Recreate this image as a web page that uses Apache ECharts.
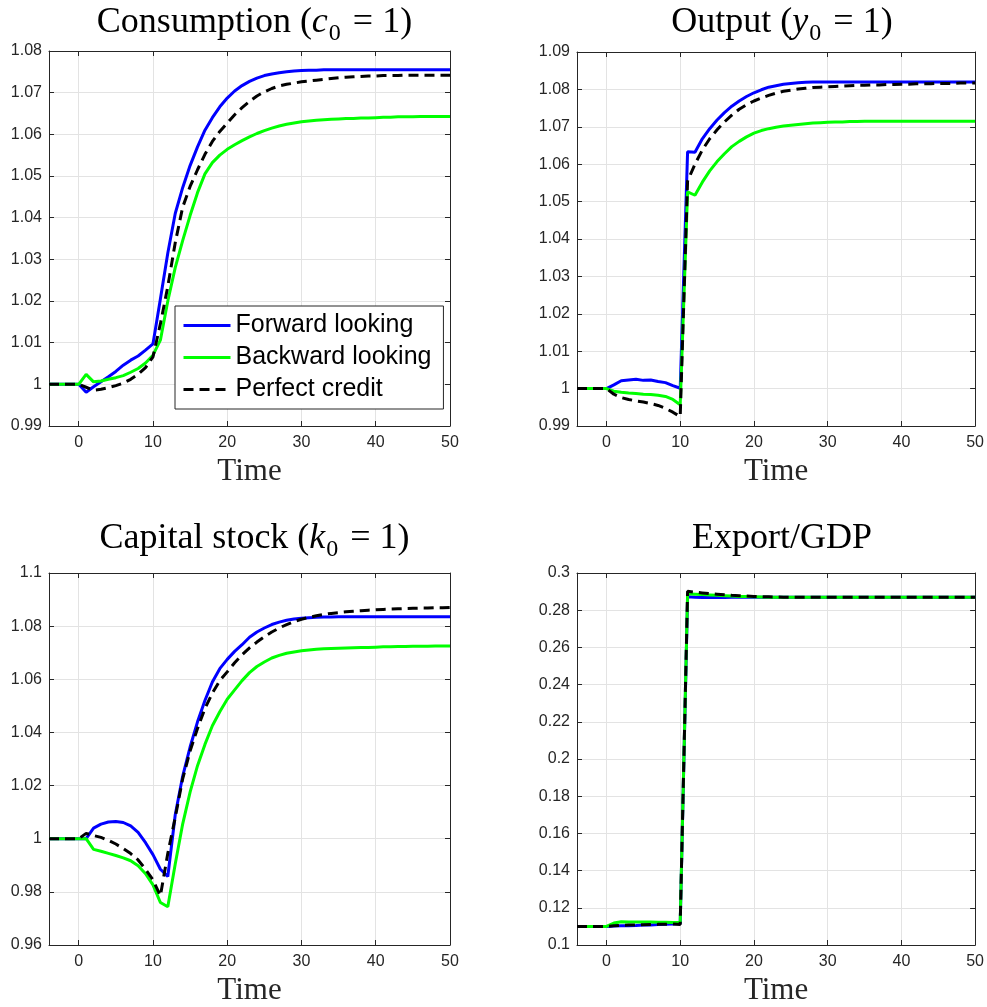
<!DOCTYPE html>
<html lang="en">
<head>
    <meta charset="UTF-8">
    <title>Credit shock responses</title>
    <script src="https://cdn.jsdelivr.net/npm/echarts@6/dist/echarts.min.js"></script>
    <style>
        html, body { margin: 0; padding: 0; background: #fff; }
        #main { width: 987px; height: 1007px; }
    </style>
</head>
<body>
<div id="main"></div>
<script>
    // time axis
    var t = [-4, -3, -2, -1, 0,
        1, 2, 3, 4, 5, 6, 7, 8, 9, 10,
        11, 12, 13, 14, 15, 16, 17, 18, 19, 20,
        21, 22, 23, 24, 25, 26, 27, 28, 29, 30,
        31, 32, 33, 34, 35, 36, 37, 38, 39, 40,
        41, 42, 43, 44, 45, 46, 47, 48, 49, 50];

    var seriesNames = ['Forward looking', 'Backward looking', 'Perfect credit'];

    // consumption
    var cons_fwd = [1, 1, 1, 1, 1,
        0.9981, 0.9994, 1.0006, 1.0018, 1.0031, 1.0046, 1.0058, 1.0068, 1.0082, 1.0097,
        1.0205, 1.0315, 1.0410, 1.0472, 1.0525, 1.0570, 1.0610, 1.0640, 1.0666, 1.0687,
        1.0704, 1.0717, 1.0727, 1.0735, 1.0741, 1.0745, 1.0748, 1.0750, 1.0752, 1.0753,
        1.0754, 1.0754, 1.0755, 1.0755, 1.0755, 1.0755, 1.0755, 1.0755, 1.0755, 1.0755,
        1.0755, 1.0755, 1.0755, 1.0755, 1.0755, 1.0755, 1.0755, 1.0755, 1.0755, 1.0755];
    var cons_bwd = [1, 1, 1, 1, 1,
        1.0024, 1.0006, 1.0008, 1.0012, 1.0016, 1.0021, 1.0029, 1.0038, 1.0051, 1.0070,
        1.0106, 1.0200, 1.0280, 1.0345, 1.0405, 1.0460, 1.0505, 1.0532, 1.0550, 1.0564,
        1.0575, 1.0585, 1.0594, 1.0602, 1.0609, 1.0615, 1.0620, 1.0624, 1.0627, 1.0630,
        1.0632, 1.0634, 1.0635, 1.0636, 1.0637, 1.0638, 1.0638, 1.0639, 1.0639, 1.0640,
        1.0641, 1.0641, 1.0642, 1.0642, 1.0642, 1.0643, 1.0643, 1.0643, 1.0643, 1.0643];
    var cons_pc = [1, 1, 1, 1, 1,
        0.9993, 0.9986, 0.9988, 0.9992, 0.9997, 1.0003, 1.0012, 1.0024, 1.0040, 1.0066,
        1.0145, 1.0235, 1.0340, 1.0425, 1.0475, 1.0515, 1.0552, 1.0583, 1.0607, 1.0627,
        1.0647, 1.0664, 1.0679, 1.0692, 1.0702, 1.0710, 1.0716, 1.0720, 1.0723, 1.0726,
        1.0728, 1.0730, 1.0732, 1.0734, 1.0736, 1.0737, 1.0738, 1.0739, 1.0740, 1.0740,
        1.0741, 1.0741, 1.0741, 1.0742, 1.0742, 1.0742, 1.0742, 1.0742, 1.0742, 1.0742];

    // output
    var out_fwd = [1, 1, 1, 1, 1,
        1.0010, 1.0021, 1.0023, 1.0025, 1.0022, 1.0023, 1.0019, 1.0016, 1.0008, 1.0001,
        1.0633, 1.0632, 1.0668, 1.0695, 1.0718, 1.0738, 1.0755, 1.0769, 1.0781, 1.0791,
        1.0799, 1.0806, 1.0810, 1.0814, 1.0816, 1.0818, 1.0819, 1.0820, 1.0820, 1.0820,
        1.0820, 1.0820, 1.0820, 1.0820, 1.0820, 1.0820, 1.0820, 1.0820, 1.0820, 1.0820,
        1.0820, 1.0820, 1.0820, 1.0820, 1.0820, 1.0820, 1.0820, 1.0820, 1.0820, 1.0820];
    var out_bwd = [1, 1, 1, 1, 1,
        0.9993, 0.9990, 0.9988, 0.9987, 0.9985, 0.9984, 0.9982, 0.9979, 0.9971, 0.9957,
        1.0526, 1.0517, 1.0552, 1.0582, 1.0607, 1.0628, 1.0647, 1.0661, 1.0673, 1.0683,
        1.0690, 1.0695, 1.0699, 1.0702, 1.0704, 1.0706, 1.0708, 1.0710, 1.0711, 1.0712,
        1.0713, 1.0713, 1.0714, 1.0714, 1.0715, 1.0715, 1.0715, 1.0715, 1.0715, 1.0715,
        1.0715, 1.0715, 1.0715, 1.0715, 1.0715, 1.0715, 1.0715, 1.0715, 1.0715, 1.0715];
    var out_pc = [1, 1, 1, 1, 1,
        0.9985, 0.9976, 0.9971, 0.9967, 0.9964, 0.9960, 0.9955, 0.9947, 0.9937, 0.9925,
        1.0555, 1.0600, 1.0638, 1.0668, 1.0692, 1.0713, 1.0731, 1.0747, 1.0759, 1.0769,
        1.0777, 1.0784, 1.0790, 1.0795, 1.0798, 1.0801, 1.0803, 1.0805, 1.0806, 1.0807,
        1.0808, 1.0809, 1.0810, 1.0811, 1.0811, 1.0812, 1.0812, 1.0813, 1.0813, 1.0814,
        1.0814, 1.0815, 1.0815, 1.0815, 1.0816, 1.0816, 1.0816, 1.0817, 1.0817, 1.0817];

    // capital stock
    var cap_fwd = [1, 1, 1, 1, 1,
        1.0000, 1.0040, 1.0055, 1.0063, 1.0065, 1.0061, 1.0048, 1.0024, 0.9985, 0.9940,
        0.9885, 0.9858, 1.0090, 1.0235, 1.0345, 1.0440, 1.0520, 1.0590, 1.0640, 1.0675,
        1.0705, 1.0730, 1.0758, 1.0778, 1.0793, 1.0806, 1.0815, 1.0822, 1.0827, 1.0830,
        1.0832, 1.0833, 1.0834, 1.0834, 1.0835, 1.0835, 1.0835, 1.0835, 1.0835, 1.0835,
        1.0835, 1.0835, 1.0835, 1.0835, 1.0835, 1.0835, 1.0835, 1.0835, 1.0835, 1.0835];
    var cap_bwd = [1, 1, 1, 1, 1,
        1.0000, 0.9960, 0.9953, 0.9945, 0.9937, 0.9928, 0.9917, 0.9898, 0.9868, 0.9826,
        0.9760, 0.9744, 0.9905, 1.0055, 1.0175, 1.0275, 1.0355, 1.0425, 1.0478, 1.0525,
        1.0560, 1.0595, 1.0625, 1.0648, 1.0665, 1.0680, 1.0690, 1.0698, 1.0703, 1.0707,
        1.0710, 1.0713, 1.0715, 1.0716, 1.0717, 1.0718, 1.0719, 1.0720, 1.0720, 1.0721,
        1.0722, 1.0722, 1.0723, 1.0723, 1.0724, 1.0724, 1.0724, 1.0725, 1.0725, 1.0725];
    var cap_pc = [1, 1, 1, 1, 1,
        1.0020, 1.0012, 1.0005, 0.9994, 0.9980, 0.9963, 0.9944, 0.9920, 0.9885, 0.9845,
        0.9785, 0.9945, 1.0080, 1.0225, 1.0330, 1.0415, 1.0490, 1.0548, 1.0595, 1.0628,
        1.0662, 1.0692, 1.0718, 1.0740, 1.0760, 1.0778, 1.0793, 1.0806, 1.0817, 1.0826,
        1.0833, 1.0839, 1.0844, 1.0848, 1.0851, 1.0854, 1.0856, 1.0858, 1.0860, 1.0862,
        1.0863, 1.0864, 1.0865, 1.0866, 1.0867, 1.0868, 1.0868, 1.0869, 1.0869, 1.0870];

    // export / GDP
    var exp_fwd = [0.11, 0.11, 0.11, 0.11, 0.11,
        0.1102, 0.1103, 0.1104, 0.1105, 0.1107, 0.1108, 0.1110, 0.1111, 0.1113, 0.1115,
        0.2872, 0.2869, 0.2868, 0.2868, 0.2868, 0.2868, 0.2869, 0.2869, 0.2870, 0.2870,
        0.2870, 0.2870, 0.2870, 0.2870, 0.2870, 0.2870, 0.2870, 0.2870, 0.2870, 0.2870,
        0.2870, 0.2870, 0.2870, 0.2870, 0.2870, 0.2870, 0.2870, 0.2870, 0.2870, 0.2870,
        0.2870, 0.2870, 0.2870, 0.2870, 0.2870, 0.2870, 0.2870, 0.2870, 0.2870, 0.2870];
    var exp_bwd = [0.11, 0.11, 0.11, 0.11, 0.11,
        0.1118, 0.1125, 0.1124, 0.1124, 0.1123, 0.1123, 0.1122, 0.1122, 0.1121, 0.1121,
        0.2888, 0.2886, 0.2884, 0.2882, 0.2880, 0.2878, 0.2876, 0.2874, 0.2873, 0.2872,
        0.2871, 0.2870, 0.2870, 0.2870, 0.2870, 0.2870, 0.2870, 0.2870, 0.2870, 0.2870,
        0.2870, 0.2870, 0.2870, 0.2870, 0.2870, 0.2870, 0.2870, 0.2870, 0.2870, 0.2870,
        0.2870, 0.2870, 0.2870, 0.2870, 0.2870, 0.2870, 0.2870, 0.2870, 0.2870, 0.2870];
    var exp_pc = [0.11, 0.11, 0.11, 0.11, 0.11,
        0.1103, 0.1106, 0.1107, 0.1108, 0.1109, 0.1110, 0.1111, 0.1112, 0.1113, 0.1110,
        0.2902, 0.2897, 0.2893, 0.2889, 0.2886, 0.2883, 0.2880, 0.2878, 0.2876, 0.2874,
        0.2873, 0.2872, 0.2871, 0.2870, 0.2870, 0.2870, 0.2870, 0.2870, 0.2870, 0.2870,
        0.2870, 0.2870, 0.2870, 0.2870, 0.2870, 0.2870, 0.2870, 0.2870, 0.2870, 0.2870,
        0.2870, 0.2870, 0.2870, 0.2870, 0.2870, 0.2870, 0.2870, 0.2870, 0.2870, 0.2870];

    var AX = '#262626';
    var GRID = '#e3e3e3';
    var SANS = 'Liberation Sans';
    var SERIF = 'Liberation Serif';

    var panels = [
        {title: '{r|Consumption (}{i|c}{s|0}{r| = 1)}', ymin: 0.99, ymax: 1.08, step: 0.01,
            box: {left: 49, top: 51, width: 401, height: 375}, lines: [cons_fwd, cons_bwd, cons_pc]},
        {title: '{r|Output (}{i|y}{s|0}{r| = 1)}', ymin: 0.99, ymax: 1.09, step: 0.01,
            box: {left: 577, top: 52, width: 400, height: 374}, lines: [out_fwd, out_bwd, out_pc]},
        {title: '{r|Capital stock (}{i|k}{s|0}{r| = 1)}', ymin: 0.96, ymax: 1.1, step: 0.02,
            box: {left: 49, top: 573, width: 401, height: 374}, lines: [cap_fwd, cap_bwd, cap_pc]},
        {title: '{r|Export/GDP}', ymin: 0.1, ymax: 0.3, step: 0.02,
            box: {left: 577, top: 573, width: 400, height: 374}, lines: [exp_fwd, exp_bwd, exp_pc]}
    ];

    var colors = ['#0000ff', '#00ff00', '#000000'];
    var types = ['solid', 'solid', [10, 6]];

    function pairs(ys) {
        return t.map(function(x, i) { return [x, ys[i]]; });
    }

    var grids = [], xAxes = [], yAxes = [], series = [], titles = [];

    panels.forEach(function(p, k) {
        grids.push({left: p.box.left, top: p.box.top, width: p.box.width, height: p.box.height, containLabel: false});

        var tickStyle = {show: true, inside: true, length: 5, lineStyle: {color: AX, width: 1}};
        var lineStyle = {show: true, onZero: false, lineStyle: {color: AX, width: 1}};

        xAxes.push({
            gridIndex: k, type: 'value', min: -4, max: 50, position: 'bottom',
            axisLine: lineStyle, axisTick: tickStyle,
            axisLabel: {
                fontFamily: SANS, fontSize: 16, color: AX, margin: 9,
                formatter: function(v) { return v < 0 ? '' : String(v); }
            },
            splitLine: {show: true, lineStyle: {color: GRID, width: 1}},
            name: 'Time', nameLocation: 'middle', nameGap: 30,
            nameTextStyle: {fontFamily: SERIF, fontSize: 31, color: AX}
        });
        xAxes.push({
            gridIndex: k, type: 'value', min: -4, max: 50, position: 'top',
            axisLine: lineStyle, axisTick: tickStyle,
            axisLabel: {show: false}, splitLine: {show: false}
        });
        yAxes.push({
            gridIndex: k, type: 'value', min: p.ymin, max: p.ymax, interval: p.step, position: 'left',
            axisLine: lineStyle, axisTick: tickStyle,
            axisLabel: {fontFamily: SANS, fontSize: 16, color: AX, margin: 7},
            splitLine: {show: true, lineStyle: {color: GRID, width: 1}}
        });
        yAxes.push({
            gridIndex: k, type: 'value', min: p.ymin, max: p.ymax, interval: p.step, position: 'right',
            axisLine: lineStyle, axisTick: tickStyle,
            axisLabel: {show: false}, splitLine: {show: false}
        });

        p.lines.forEach(function(ys, j) {
            series.push({
                type: 'line', name: seriesNames[j],
                xAxisIndex: 2 * k, yAxisIndex: 2 * k,
                data: pairs(ys),
                symbol: 'none', showSymbol: false,
                lineStyle: {color: colors[j], width: 3, type: types[j]},
                itemStyle: {color: colors[j]},
                z: 3 + j
            });
        });

        var rowTop = k < 2 ? 0 : 516;
        titles.push({
            text: p.title,
            left: p.box.left + p.box.width / 2, top: rowTop, textAlign: 'center',
            textStyle: {
                fontWeight: 'normal',
                rich: {
                    r: {fontFamily: SERIF, fontSize: 36, fontWeight: 'normal', color: '#000', verticalAlign: 'bottom', padding: [0, 0, 5, 0]},
                    i: {fontFamily: SERIF, fontSize: 36, fontWeight: 'normal', fontStyle: 'italic', color: '#000', verticalAlign: 'bottom', padding: [0, 0, 5, 0]},
                    s: {fontFamily: SERIF, fontSize: 24, fontWeight: 'normal', color: '#000', verticalAlign: 'bottom', padding: [0, 3, 0, 1]}
                }
            }
        });
    });

    var chart = echarts.init(document.getElementById('main'));
    chart.setOption({
        backgroundColor: '#fff',
        animation: false,
        title: titles,
        grid: grids,
        xAxis: xAxes,
        yAxis: yAxes,
        legend: {
            data: seriesNames,
            orient: 'vertical', left: 175, top: 306,
            backgroundColor: '#fff', borderColor: AX, borderWidth: 1,
            padding: [7, 12, 7, 7], itemWidth: 47, itemHeight: 14, itemGap: 7,
            itemStyle: {color: 'rgba(0,0,0,0)', borderWidth: 0, opacity: 0},
            lineStyle: {width: 3},
            textStyle: {fontFamily: SANS, fontSize: 25, color: '#000'},
            selectedMode: false
        },
        series: series
    });
</script>
</body>
</html>
